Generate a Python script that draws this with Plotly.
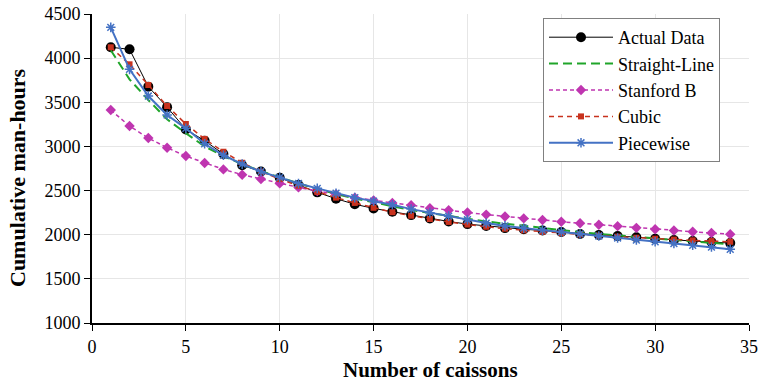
import plotly.graph_objects as go

caissons = list(range(1, 35))

actual = [4123, 4100, 3677, 3445, 3193, 3065, 2914, 2787, 2716, 2645, 2563, 2480,
          2408, 2345, 2298, 2260, 2222, 2185, 2150, 2120, 2100, 2075, 2062, 2048,
          2030, 2008, 1996, 1986, 1970, 1953, 1939, 1928, 1918, 1905]

straight_line = [4090, 3760, 3526, 3307, 3150, 3000, 2890, 2800, 2720, 2650, 2580,
                 2520, 2460, 2410, 2365, 2320, 2280, 2245, 2212, 2180, 2150, 2125,
                 2100, 2075, 2050, 2030, 2010, 1995, 1975, 1958, 1940, 1925, 1908, 1892]

stanford_b = [3412, 3231, 3095, 2985, 2891, 2812, 2740, 2680, 2630, 2581, 2536, 2495,
              2457, 2419, 2389, 2360, 2333, 2300, 2278, 2252, 2228, 2206, 2185, 2166,
              2147, 2130, 2113, 2097, 2078, 2062, 2047, 2034, 2019, 2006]

cubic = [4123, 3930, 3696, 3458, 3254, 3085, 2940, 2815, 2715, 2630, 2555, 2485,
         2420, 2360, 2305, 2255, 2215, 2178, 2145, 2115, 2090, 2068, 2050, 2033,
         2018, 2003, 1990, 1978, 1966, 1955, 1945, 1936, 1928, 1920]

piecewise = [4349, 3873, 3571, 3356, 3205, 3030, 2900, 2800, 2715, 2650, 2580, 2525,
             2470, 2420, 2380, 2340, 2290, 2250, 2210, 2170, 2132, 2100, 2074, 2052,
             2032, 2010, 1985, 1963, 1940, 1920, 1900, 1880, 1860, 1835]

x_title = "Number of caissons"
y_title = "Cumulative man-hours"

FONT = "Liberation Serif, Times New Roman, serif"

fig = go.Figure()
fig.add_trace(go.Scatter(
    x=caissons, y=actual, name="Actual Data", mode="lines+markers",
    line=dict(color="black", width=1),
    marker=dict(symbol="circle", size=10, color="black")))
fig.add_trace(go.Scatter(
    x=caissons, y=straight_line, name="Straight-Line", mode="lines",
    line=dict(color="#20a52a", width=2, dash="9px,5px")))
fig.add_trace(go.Scatter(
    x=caissons, y=stanford_b, name="Stanford B", mode="lines+markers",
    line=dict(color="#bf35b0", width=1.5, dash="4px,3px"),
    marker=dict(symbol="diamond", size=8, color="#bf35b0")))
fig.add_trace(go.Scatter(
    x=caissons, y=cubic, name="Cubic", mode="lines+markers",
    line=dict(color="#c8321e", width=1.5, dash="5px,4px"),
    marker=dict(symbol="square", size=6, color="#c8321e")))
fig.add_trace(go.Scatter(
    x=caissons, y=piecewise, name="Piecewise", mode="lines+markers",
    line=dict(color="#4472c4", width=2),
    marker=dict(symbol="asterisk-open", size=8, color="#4472c4",
                line=dict(color="#4472c4", width=1.5))))

fig.update_layout(
    width=761, height=382,
    margin=dict(l=92, r=12, t=14, b=59),
    paper_bgcolor="white", plot_bgcolor="white",
    font=dict(family=FONT, size=18, color="black"),
    legend=dict(
        x=(543 - 92) / 657, y=(323 - 18) / 309, xanchor="left", yanchor="top",
        bgcolor="white", bordercolor="#808080", borderwidth=1,
        font=dict(family=FONT, size=18, color="black"),
        itemwidth=64,
        tracegroupgap=0,
    ),
    annotations=[
        dict(text="<b>" + x_title + "</b>", xref="paper", yref="paper",
             x=(430 - 92) / 657, y=0, xanchor="center", yanchor="middle",
             yshift=-47, showarrow=False, font=dict(family=FONT, size=21)),
        dict(text="<b>" + y_title + "</b>", xref="paper", yref="paper",
             x=0, y=(323 - 178) / 309, xanchor="center", yanchor="middle",
             xshift=-75, textangle=-90, showarrow=False,
             font=dict(family=FONT, size=22)),
    ],
)
fig.update_xaxes(
    range=[0, 35], dtick=5, tick0=0, automargin=False,
    showline=True, linecolor="black", linewidth=2,
    ticks="outside", ticklen=6, tickcolor="black", tickwidth=1,
    showgrid=True, gridcolor="#e6e6e6", gridwidth=1, zeroline=False,
    tickfont=dict(family=FONT, size=18),
)
fig.update_yaxes(
    range=[1000, 4500], dtick=500, tick0=1000, automargin=False,
    showline=True, linecolor="black", linewidth=2,
    ticks="outside", ticklen=6, tickcolor="black", tickwidth=1,
    showgrid=True, gridcolor="#e6e6e6", gridwidth=1, zeroline=False,
    tickfont=dict(family=FONT, size=18),
)

fig.write_html("out.html", config={"displayModeBar": False},
               post_script="document.body.style.margin='0';")
